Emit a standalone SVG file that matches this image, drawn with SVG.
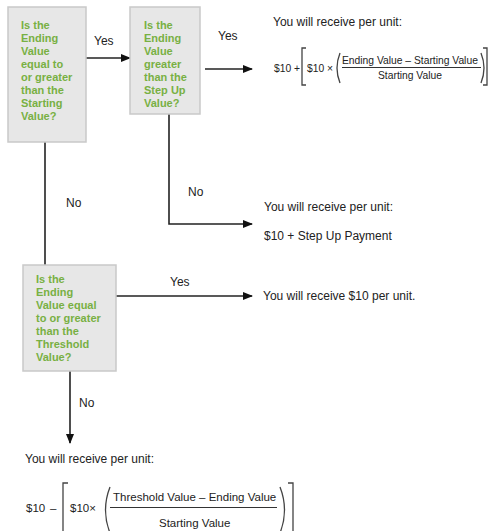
<svg xmlns="http://www.w3.org/2000/svg" width="488" height="531" viewBox="0 0 488 531">
<defs>
<style>
.box{fill:#e7e7e7;stroke:#c9c9c9;stroke-width:1.5}
.q{font-family:"Liberation Sans",Arial,sans-serif;font-weight:bold;font-size:11px;fill:#78b043}
.t{font-family:"Liberation Sans",Arial,sans-serif;font-size:12px;fill:#222}
.f{font-family:"Liberation Sans",Arial,sans-serif;font-size:10.3px;fill:#222}
.f2{font-family:"Liberation Sans",Arial,sans-serif;font-size:11.5px;fill:#222}
.ln{stroke:#222;stroke-width:1.6;fill:none}
.br{stroke:#444;stroke-width:1.3;fill:none}
</style>
<marker id="ah" markerWidth="10" markerHeight="8" refX="9" refY="4" orient="auto" markerUnits="userSpaceOnUse">
<path d="M0,0 L10,4 L0,8 Z" fill="#111"/>
</marker>
</defs>
<rect width="488" height="531" fill="#fff"/>

<g id="connectors">
<line class="ln" x1="86" y1="58" x2="130" y2="58" marker-end="url(#ah)"/>
<line class="ln" x1="205" y1="69" x2="252" y2="69" marker-end="url(#ah)"/>
<polyline class="ln" points="169,114 169,224 252,224" marker-end="url(#ah)"/>
<line class="ln" x1="45" y1="142" x2="45" y2="265"/>
<line class="ln" x1="116" y1="296" x2="252" y2="296" marker-end="url(#ah)"/>
<line class="ln" x1="70" y1="371" x2="70" y2="443" marker-end="url(#ah)"/>
<text class="t" x="94" y="45">Yes</text>
<text class="t" x="218" y="40">Yes</text>
<text class="t" x="188" y="196">No</text>
<text class="t" x="66" y="207">No</text>
<text class="t" x="170" y="286">Yes</text>
<text class="t" x="79" y="407">No</text>
</g>

<g id="q1">
<rect class="box" x="8" y="7" width="78" height="135"/>
<text class="q" x="21" y="29">Is the</text>
<text class="q" x="21" y="42">Ending</text>
<text class="q" x="21" y="55">Value</text>
<text class="q" x="21" y="68">equal to</text>
<text class="q" x="21" y="81">or greater</text>
<text class="q" x="21" y="94">than the</text>
<text class="q" x="21" y="107">Starting</text>
<text class="q" x="21" y="120">Value?</text>
</g>

<g id="q2">
<rect class="box" x="130" y="7" width="70" height="107"/>
<text class="q" x="144" y="29">Is the</text>
<text class="q" x="144" y="42">Ending</text>
<text class="q" x="144" y="55">Value</text>
<text class="q" x="144" y="68">greater</text>
<text class="q" x="144" y="81">than the</text>
<text class="q" x="144" y="94">Step Up</text>
<text class="q" x="144" y="107">Value?</text>
</g>

<g id="q3">
<rect class="box" x="23" y="265" width="93" height="106"/>
<text class="q" x="36" y="283">Is the</text>
<text class="q" x="36" y="296">Ending</text>
<text class="q" x="36" y="309">Value equal</text>
<text class="q" x="36" y="322">to or greater</text>
<text class="q" x="36" y="335">than the</text>
<text class="q" x="36" y="348">Threshold</text>
<text class="q" x="36" y="361">Value?</text>
</g>

<g id="r1">
<text class="t" x="273" y="26">You will receive per unit:</text>
<text class="f" x="274" y="72">$10 +</text>
<path class="br" d="M306,48 L302,48 L302,85 L306,85"/>
<text class="f" x="307" y="72">$10 ×</text>
<path class="br" d="M340,53 Q334,68 340,83"/>
<text class="f" x="342" y="64">Ending Value – Starting Value</text>
<line x1="342" y1="67.5" x2="481" y2="67.5" stroke="#333" stroke-width="1"/>
<text class="f" x="378" y="79">Starting Value</text>
<path class="br" d="M481,53 Q487,68 481,83"/>
<path class="br" d="M483,48 L487,48 L487,85 L483,85"/>
</g>

<g id="r2">
<text class="t" x="264" y="211">You will receive per unit:</text>
<text class="t" x="264" y="240">$10 + Step Up Payment</text>
</g>

<g id="r3">
<text class="t" x="263" y="300">You will receive $10 per unit.</text>
</g>

<g id="r4">
<text class="t" x="25" y="463">You will receive per unit:</text>
<text class="f2" x="26" y="512">$10</text>
<text class="f2" x="50" y="512">–</text>
<path class="br" d="M68,483 L63,483 L63,531"/>
<text class="f2" x="70" y="512">$10×</text>
<path class="br" d="M110,487 Q101,510 110,533"/>
<text class="f2" x="113" y="501">Threshold Value – Ending Value</text>
<line x1="110" y1="507.5" x2="277" y2="507.5" stroke="#333" stroke-width="1"/>
<text class="f2" x="159" y="527">Starting Value</text>
<path class="br" d="M280,487 Q289,510 280,533"/>
<path class="br" d="M288,483 L293,483 L293,531"/>
</g>
</svg>
